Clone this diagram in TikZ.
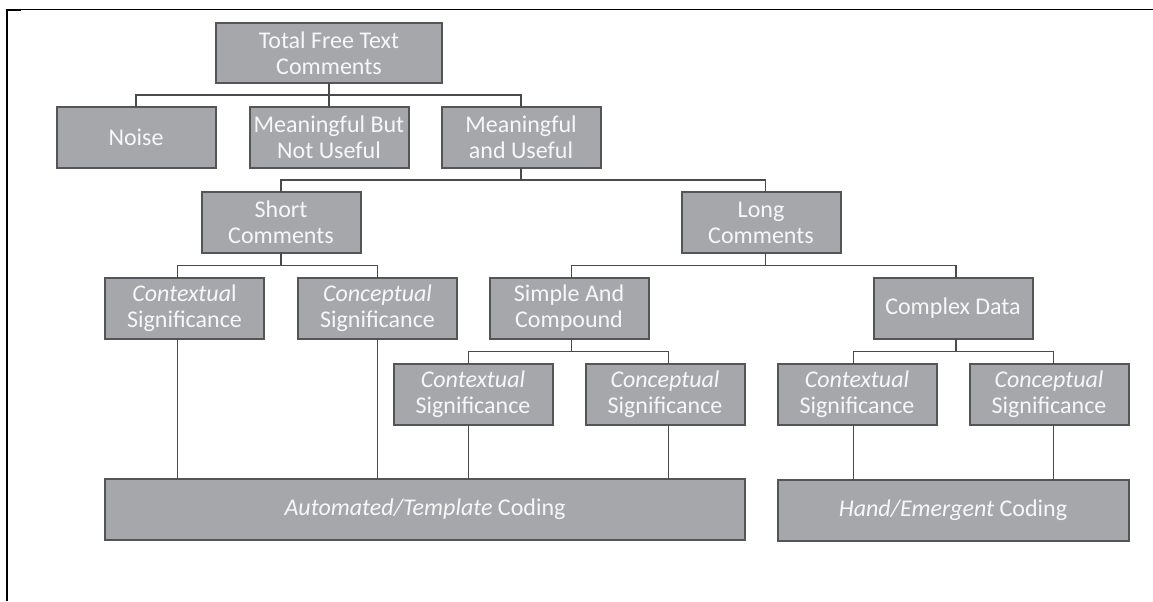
\documentclass[tikz,border=0pt]{standalone}
\usepackage{fontspec}
\setmainfont{Carlito}
\usepackage{tikz}
\usetikzlibrary{positioning}
\definecolor{boxfill}{HTML}{A6A7AA}
\definecolor{boxline}{HTML}{545558}
\definecolor{boxtext}{HTML}{F7F7F7}
\definecolor{linkline}{HTML}{4A4A4C}
\tikzset{
	box/.style={draw=boxline, line width=1pt, fill=boxfill, text=boxtext, align=center, minimum width=79.5pt, minimum height=30.5pt, inner sep=0pt, outer sep=0pt, font=\fontsize{12pt}{13pt}\selectfont},
	link/.style={draw=linkline, line width=0.85pt},
	frame/.style={line width=0.5pt}
}

\begin{document}
\begin{tikzpicture}
		\useasboundingbox (0,0) rectangle (576.5pt,-300.5pt);
		\draw[frame] (3pt,-4.65pt) -- (576.5pt,-4.65pt);
		\draw[frame, line width=1pt] (3.5pt,-4.4pt) -- (3.5pt,-300.5pt);
		\draw[frame, line width=1pt] (3pt,-5.2pt) -- (10.5pt,-5.2pt);
		\node[box, minimum width=113pt, minimum height=30pt] (total) at (164.5pt,-26.5pt) {Total Free Text\\Comments};
		\node[box, below=12pt of total] (mbnu) {Meaningful But\\Not Useful};
		\node[box, left=17pt of mbnu] (noise) {Noise};
		\node[box, right=16.5pt of mbnu] (mu) {Meaningful\\and Useful};
		\node[box, below=12pt of mu, xshift=-120pt] (short) {Short\\Comments};
		\node[box, below=12pt of mu, xshift=120pt] (long) {Long\\Comments};
		\node[box, below=12.5pt of short, xshift=-48.25pt] (ctxs) {\textit{Contextua}l\\Significance};
		\node[box, below=12.5pt of short, xshift=48.25pt] (cpts) {\textit{Conceptual}\\Significance};
		\node[box, below=12.5pt of long, xshift=-96pt] (simple) {Simple And\\Compound};
		\node[box, below=12.5pt of long, xshift=96pt] (complex) {Complex Data};
		\node[box, below=12.5pt of simple, xshift=-48pt] (ctxsc) {\textit{Contextual}\\Significance};
		\node[box, below=12.5pt of simple, xshift=48pt] (cptsc) {\textit{Conceptual}\\Significance};
		\node[box, below=12.5pt of complex, xshift=-48pt] (ctxcd) {\textit{Contextual}\\Significance};
		\node[box, below=12.5pt of complex, xshift=48pt] (cptcd) {\textit{Conceptual}\\Significance};
		\node[box, anchor=north west, minimum width=320pt] (auto) at ([yshift=-70pt]ctxs.south west) {\textit{Automated/Template} Coding};
		\node[box, anchor=north west, minimum width=175.5pt] (hand) at ([yshift=-27.5pt]ctxcd.south west) {\textit{Hand/Emergent} Coding};
		\draw[link] (total.south) -- ++(0,-6pt) -| (noise.north);
		\draw[link] (total.south) -- ++(0,-6pt) -| (mu.north);
		\draw[link] (total.south) -- (mbnu.north);
		\draw[link] (mu.south) -- ++(0,-6pt) -| (short.north);
		\draw[link] (mu.south) -- ++(0,-6pt) -| ([xshift=2.25pt]long.north);
		\draw[link] (short.south) -- ++(0,-6.25pt) -| ([xshift=-3.5pt]ctxs.north);
		\draw[link] (short.south) -- ++(0,-6.25pt) -| (cpts.north);
		\draw[link] ([xshift=2.25pt]long.south) -- ++(0,-6.25pt) -| ([xshift=1.25pt]simple.north);
		\draw[link] ([xshift=2.25pt]long.south) -- ++(0,-6.25pt) -| ([xshift=1.5pt]complex.north);
		\draw[link] ([xshift=1.25pt]simple.south) -- ++(0,-6.25pt) -| ([xshift=-2.25pt]ctxsc.north);
		\draw[link] ([xshift=1.25pt]simple.south) -- ++(0,-6.25pt) -| ([xshift=1.75pt]cptsc.north);
		\draw[link] ([xshift=1.5pt]complex.south) -- ++(0,-6.25pt) -| ([xshift=-1.75pt]ctxcd.north);
		\draw[link] ([xshift=1.5pt]complex.south) -- ++(0,-6.25pt) -| ([xshift=2.25pt]cptcd.north);
		\draw[link] ([xshift=-3.5pt]ctxs.south) -- ([xshift=-3.5pt]auto.north -| ctxs.south);
		\draw[link] (cpts.south) -- (auto.north -| cpts.south);
		\draw[link] ([xshift=-2.25pt]ctxsc.south) -- ([xshift=-2.25pt]auto.north -| ctxsc.south);
		\draw[link] ([xshift=1.75pt]cptsc.south) -- ([xshift=1.75pt]auto.north -| cptsc.south);
		\draw[link] ([xshift=-1.75pt]ctxcd.south) -- ([xshift=-1.75pt]hand.north -| ctxcd.south);
		\draw[link] ([xshift=2.25pt]cptcd.south) -- ([xshift=2.25pt]hand.north -| cptcd.south);
	\end{tikzpicture}
\end{document}
